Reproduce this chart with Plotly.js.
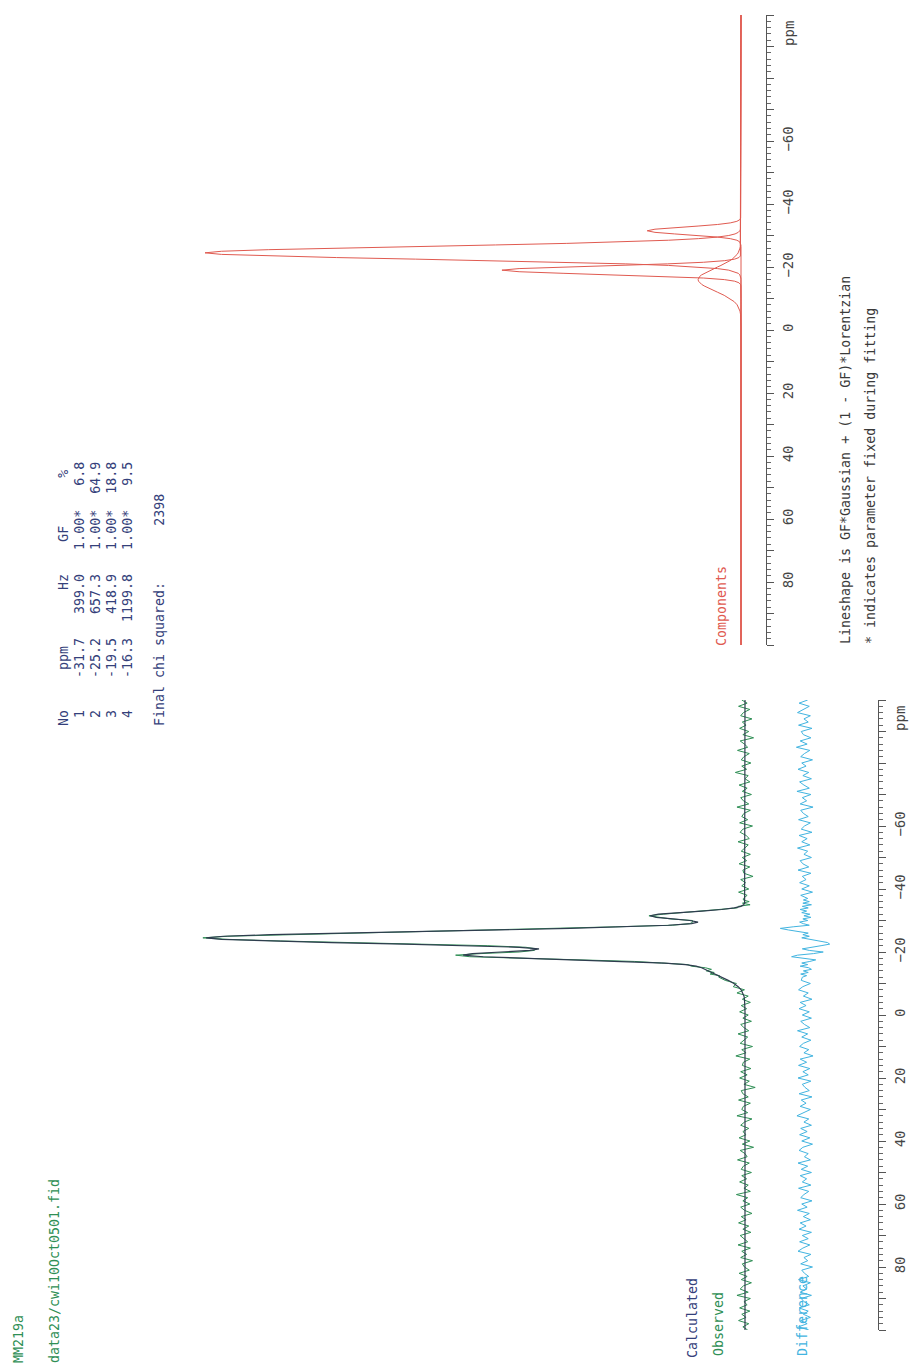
<!DOCTYPE html>
<html><head><meta charset="utf-8">
<script src="https://cdn.plot.ly/plotly-3.0.1.min.js"></script>
<style>html,body{margin:0;padding:0;background:#fff;}#chart{width:911px;height:1367px;}</style>
</head><body><div id="chart"></div>
<script>
// ---------------- DATA ----------------
// Fit components (top panel), ppm grid shared with the calculated curve
const COMP_PPM = [-100,-40,-39,-38,-37,-36.5,-36,-35.5,-35,-34.5,-34,-33.5,-33,-32.5,-32,-31.5,-31,-30.5,-30,-29.5,-29,-28.5,-28,-27.5,-27,-26.5,-26,-25.5,-25,-24.5,-24,-23.5,-23,-22.5,-22,-21.5,-21,-20.5,-20,-19.5,-19,-18.5,-18,-17.5,-17,-16.5,-16,-15.5,-15,-14.5,-14,-13.5,-13,-12.5,-12,-11,-10,-9,-8,-7,-6,-5,-4,-3,-2,-1,0,100];
const COMP1 = [0,0,0,0,0,0,0.02,0.07,0.25,0.77,2.00,4.36,8.01,12.37,16.05,17.5,16.05,12.37,8.01,4.36,2.00,0.77,0.25,0.07,0.02,0,0,0,0,0,0,0,0,0,0,0,0,0,0,0,0,0,0,0,0,0,0,0,0,0,0,0,0,0,0,0,0,0,0,0,0,0,0,0,0,0,0,0];
const COMP2 = [0,0,0,0,0,0,0,0,0,0,0,0,0.01,0.03,0.09,0.22,0.51,1.11,2.28,4.39,7.96,13.5,21.6,32.5,45.8,60.7,75.5,88.2,96.9,100,96.9,88.2,75.5,60.7,45.8,32.5,21.6,13.5,7.96,4.39,2.28,1.11,0.51,0.22,0.09,0.03,0.01,0,0,0,0,0,0,0,0,0,0,0,0,0,0,0,0,0,0,0,0,0];
const COMP3 = [0,0,0,0,0,0,0,0,0,0,0,0,0,0,0,0,0,0,0,0,0,0,0,0,0,0,0,0,0,0.01,0.03,0.11,0.39,1.19,3.11,7.02,13.7,22.9,33.2,41.4,44.6,41.4,33.2,22.9,13.7,7.02,3.11,1.19,0.39,0.11,0.03,0.01,0,0,0,0,0,0,0,0,0,0,0,0,0,0,0,0];
const COMP4 = [0,0,0,0,0,0,0,0,0,0,0,0,0,0,0,0,0,0,0,0.01,0.01,0.02,0.04,0.06,0.09,0.13,0.19,0.27,0.38,0.53,0.72,0.97,1.27,1.64,2.07,2.57,3.13,3.74,4.39,5.05,5.71,6.33,6.88,7.35,7.71,7.93,8.0,7.93,7.71,7.35,6.88,6.33,5.71,5.05,4.39,3.13,2.07,1.27,0.72,0.38,0.19,0.09,0.04,0.01,0,0,0,0];
const CALCULATED = [0,0,0,0,0,0,0.02,0.07,0.25,0.77,2.00,4.36,8.02,12.40,16.14,17.72,16.56,13.48,10.29,8.76,9.97,14.29,21.89,32.63,45.91,60.83,75.69,88.47,97.28,100.54,97.65,89.28,77.16,63.53,50.98,42.09,38.43,40.14,45.55,50.84,52.59,48.84,40.59,30.47,21.50,14.98,11.12,9.12,8.10,7.46,6.91,6.34,5.71,5.05,4.39,3.13,2.07,1.27,0.72,0.38,0.19,0.09,0.04,0.01,0,0,0,0];

// Observed spectrum and difference (bottom panel)
const OBS_PPM = [-100,-99,-98,-97,-96,-95,-94,-93,-92,-91,-90,-89,-88,-87,-86,-85,-84,-83,-82,-81,-80,-79,-78,-77,-76,-75,-74,-73,-72,-71,-70,-69,-68,-67,-66,-65,-64,-63,-62,-61,-60,-59,-58,-57,-56,-55,-54,-53,-52,-51,-50,-49,-48,-47,-46,-45,-44,-43,-42,-41,-40,-39,-38,-37,
-36.5,-36,-35.5,-35,-34.5,-34,-33.5,-33,-32.5,-32,-31.5,-31,-30.5,-30,-29.5,-29,-28.5,-28,-27.5,-27,-26.5,-26,-25.5,-25,-24.5,-24,-23.5,-23,-22.5,-22,-21.5,-21,-20.5,-20,-19.5,-19,-18.5,-18,-17.5,-17,-16.5,-16,-15.5,-15,-14.5,-14,-13.5,-13,-12.5,-12,
-11,-10,-9,-8,-7,-6,-5,-4,-3,-2,-1,0,1,2,3,4,5,6,7,8,9,10,11,12,13,14,15,16,17,18,19,20,21,22,23,24,25,26,27,28,29,30,31,32,33,34,35,36,37,38,39,40,41,42,43,44,45,46,47,48,49,50,51,52,53,54,55,56,57,58,59,60,61,62,63,64,65,66,67,68,69,70,71,72,73,74,75,76,77,78,79,80,81,82,83,84,85,86,87,88,89,90,91,92,93,94,95,96,97,98,99,100];
const OBSERVED = [0.6,-0.4,1.2,-0.9,0.3,0.8,-1.3,0.5,-0.2,1.0,-0.7,0.4,-1.6,0.9,0.1,-0.5,1.4,-0.8,0.2,0.7,-1.1,0.6,-0.3,1.8,-0.6,0.0,-0.9,1.1,-0.4,0.5,-1.2,0.8,0.3,-0.7,1.5,-1.0,0.2,0.6,-0.5,1.0,-1.4,0.4,0.9,-0.2,-0.8,1.3,-0.6,0.1,0.7,-1.0,0.5,-0.3,1.1,-0.9,0.4,0.2,-1.5,0.8,-0.1,0.6,-0.7,1.2,-0.4,0.3,
0.3,-0.78,0.47,-0.95,1.27,1.40,5.26,7.72,13.0,15.24,17.92,15.46,13.88,9.79,9.76,10.27,13.49,24.09,37.23,49.01,62.03,75.09,88.87,96.48,101.14,96.25,86.68,72.96,58.93,47.98,40.89,38.93,39.34,42.15,49.24,53.99,51.34,40.19,28.47,20.60,15.58,10.62,10.02,7.40,6.26,7.21,5.74,6.51,4.75,4.89,
3.7,1.6,2.2,0.1,1.5,-0.6,0.5,-1.0,0.7,
-0.3,1.0,-0.6,0.4,-1.2,0.8,0.2,-0.7,1.3,-0.5,0.1,0.9,-1.4,0.6,-0.2,1.7,-0.9,0.3,0.5,-1.1,0.8,-0.4,1.0,-0.8,0.2,-1.9,0.7,0.4,-0.6,1.2,-1.0,0.3,0.6,-0.5,1.5,-1.3,0.1,0.8,-0.7,0.4,-0.2,1.1,-0.9,0.5,-1.6,0.9,0.0,-0.4,1.4,-0.8,0.3,0.7,-1.2,0.6,-0.3,1.0,-0.6,0.2,-1.0,1.6,-0.5,0.4,-0.9,0.8,0.1,-1.3,0.7,-0.2,1.2,-0.7,0.4,-1.1,0.9,0.2,-0.5,1.3,-1.0,0.6,-0.3,0.8,-1.4,0.5,0.1,-0.8,1.1,-0.4,0.7,-1.2,0.3,0.9,-0.6,1.5,-1.0,0.2,-0.4,1.0,-0.9,0.6,-0.2,1.2,-0.7,0.4,-0.5];
const DIFFERENCE = [-0.5,1.1,-0.8,0.4,1.4,-1.0,0.2,-0.6,1.2,-1.3,0.7,0.3,-1.1,0.9,-0.4,1.6,-0.9,0.1,0.8,-1.4,0.6,-0.2,1.3,-0.7,0.4,-1.2,1.0,0.2,-0.8,1.5,-1.1,0.5,-0.3,0.9,-1.5,0.8,0.3,-0.6,1.2,-1.0,0.1,0.7,-1.3,1.1,-0.4,0.6,-0.9,1.4,-0.5,0.2,-1.2,0.9,0.4,-0.7,1.3,-1.1,0.5,-0.2,1.0,-0.8,0.6,-1.4,0.8,-0.5,
0.3,-0.8,0.4,-1.2,0.5,-0.6,0.9,-0.3,0.6,-0.9,0.2,-1.1,0.4,-0.5,1.0,0.3,-0.8,2.2,4.6,3.1,1.2,-0.6,0.4,-0.8,0.6,-1.4,-2.6,-4.2,-4.6,-3.0,-1.2,0.5,-0.8,-3.4,-1.6,1.4,2.5,-0.4,-2.0,-0.9,0.6,-0.5,0.9,-0.7,-1.2,0.3,-0.6,0.8,-0.3,0.5,
0.7,-1.0,0.4,1.2,-0.6,0.3,-1.3,0.9,-0.2,1.1,-0.8,0.5,-1.2,0.8,0.1,-0.9,1.4,-0.5,0.6,-1.1,0.3,1.0,-0.7,0.2,-1.5,0.9,-0.3,1.2,-0.9,0.4,-0.6,1.3,-1.1,0.5,0.0,-0.8,1.1,-1.3,0.7,-0.2,0.9,-1.0,0.3,1.5,-0.7,0.2,-1.2,0.8,-0.4,1.0,-0.9,0.6,-1.4,0.4,1.1,-0.6,0.1,-1.0,1.3,-0.5,0.7,-1.2,0.9,-0.3,0.5,-1.1,1.2,-0.7,0.2,0.8,-1.3,0.6,-0.4,1.4,-0.8,0.3,-1.0,0.9,-0.2,1.1,-1.2,0.5,-0.6,1.0,-0.9,0.4,1.3,-1.1,0.2,-0.5,0.8,-1.4,0.6,0.1,-0.7,1.2,-1.0,0.4,-0.3,0.9,-1.2,0.7,0.2,-0.8,1.1,-0.6,0.3,-1.0,0.8,-0.4,1.2,-0.7];

// Axis ticks
const TICK_VALS = [-100,-90,-80,-70,-60,-50,-40,-30,-20,-10,0,10,20,30,40,50,60,70,80,90,100];
const TICK_TEXT = ['','','','','\u221260','','\u221240','','\u221220','','0','','20','','40','','60','','80','',''];

// Fit table
const FIT_NO  = ['1','2','3','4'];
const FIT_PPM = ['-31.7','-25.2','-19.5','-16.3'];
const FIT_HZ  = ['399.0','657.3','418.9','1199.8'];
const FIT_GF  = ['1.00*','1.00*','1.00*','1.00*'];
const FIT_PCT = ['6.8','64.9','18.8','9.5'];
const CHI_SQUARED = '2398';

// ---------------- LAYOUT ----------------
const W = 911, H = 1367;
const MONO = 'DejaVu Sans Mono, Liberation Mono, monospace';
const RED = '#e05a50', GREEN = '#2f8f55', DARK = '#2f3d4f', CYAN = '#42b4e0', NAVY = '#34407a', GREY = '#3a3a3a';
const fx = p => p / W, fy = p => 1 - p / H;
const nb = s => s.replace(/ /g, '\u00a0');

const header = 'No' + ' '.repeat(5) + 'ppm' + ' '.repeat(7) + 'Hz' + ' '.repeat(4) + 'GF' + ' '.repeat(6) + '%';
const rows = FIT_NO.map((n, i) => n.padStart(2) + FIT_PPM[i].padStart(9) + FIT_HZ[i].padStart(8) + FIT_GF[i].padStart(8) + FIT_PCT[i].padStart(6));
const finalLine = 'Final chi squared:' + ' '.repeat(7) + CHI_SQUARED;

function label(text, xpx, ybottom, color, size) {
  return {text: nb(text), xref: 'paper', yref: 'paper', x: fx(xpx), y: fy(ybottom),
    xanchor: 'center', yanchor: 'bottom', textangle: -90, showarrow: false,
    font: {family: MONO, size: size || 13.3, color: color}};
}

const annotations = [
  label('MM219a', 18, 1365, GREEN),
  label('data23/cwi10Oct0501.fid', 54, 1365, GREEN),
  label(header, 63, 728, NAVY),
  label(rows[0], 79, 728, NAVY),
  label(rows[1], 95, 728, NAVY),
  label(rows[2], 111, 728, NAVY),
  label(rows[3], 127, 728, NAVY),
  label(finalLine, 159, 728, NAVY),
  label('Components', 722, 648, RED),
  label('Calculated', 692, 1360, NAVY),
  label('Observed', 718, 1358, GREEN),
  label('Difference', 802, 1358, CYAN),
  label('Lineshape is GF*Gaussian + (1 - GF)*Lorentzian', 845, 646, GREY),
  label('* indicates parameter fixed during fitting', 870, 646, GREY),
  {text: 'ppm', xref: 'paper', yref: 'y', x: fx(789), y: -94, xanchor: 'center', yanchor: 'middle', textangle: -90, showarrow: false, font: {family: MONO, size: 14, color: '#444'}},
  {text: 'ppm', xref: 'paper', yref: 'y2', x: fx(900), y: -94, xanchor: 'center', yanchor: 'middle', textangle: -90, showarrow: false, font: {family: MONO, size: 14, color: '#444'}}
];

function ppmAxis(domain, anchor) {
  return {domain: domain, anchor: anchor, side: 'right', range: [100, -100], autorange: false,
    showline: true, linecolor: '#555', linewidth: 1, showgrid: false, zeroline: false,
    ticks: 'outside', ticklen: 7, tickwidth: 1, tickcolor: '#555',
    tickmode: 'array', tickvals: TICK_VALS, ticktext: TICK_TEXT, tickangle: -90,
    ticklabelstandoff: 2,
    tickfont: {family: MONO, size: 14, color: '#444'},
    minor: {tickmode: 'linear', tick0: 0, dtick: 2, ticklen: 4, tickcolor: '#666', ticks: 'outside', showgrid: false}};
}
function hiddenX(domain, range, anchor) {
  return {domain: domain, range: range, autorange: false, visible: false, showgrid: false, zeroline: false, anchor: anchor};
}

const layout = {
  width: W, height: H, margin: {l: 0, r: 0, t: 0, b: 0},
  paper_bgcolor: '#fff', plot_bgcolor: 'rgba(0,0,0,0)', showlegend: false,
  xaxis: hiddenX([fx(150), fx(766)], [(741 - 150) / 5.36, (741 - 766) / 5.36], 'y'),
  yaxis: ppmAxis([fy(645), fy(15)], 'x'),
  xaxis2: hiddenX([fx(150), fx(878)], [(745 - 150) / 5.36, (745 - 878) / 5.36], 'y2'),
  xaxis3: {overlaying: 'x2', range: [(805 - 150) / 5.36, (805 - 878) / 5.36], autorange: false, visible: false, anchor: 'y2', showgrid: false, zeroline: false},
  yaxis2: ppmAxis([fy(1330), fy(700)], 'x2'),
  annotations: annotations
};

const lineTrace = (x, y, xa, ya, color, width) => ({x: x, y: y, xaxis: xa, yaxis: ya, type: 'scatter', mode: 'lines', line: {color: color, width: width}, hoverinfo: 'skip'});
const traces = [
  lineTrace(COMP1, COMP_PPM, 'x', 'y', RED, 1),
  lineTrace(COMP2, COMP_PPM, 'x', 'y', RED, 1),
  lineTrace(COMP3, COMP_PPM, 'x', 'y', RED, 1),
  lineTrace(COMP4, COMP_PPM, 'x', 'y', RED, 1),
  lineTrace(OBSERVED, OBS_PPM, 'x2', 'y2', GREEN, 1),
  lineTrace(CALCULATED, COMP_PPM, 'x2', 'y2', DARK, 1.2),
  lineTrace(DIFFERENCE, OBS_PPM, 'x3', 'y2', CYAN, 1)
];

Plotly.newPlot('chart', traces, layout, {staticPlot: true, displayModeBar: false});
</script></body></html>
